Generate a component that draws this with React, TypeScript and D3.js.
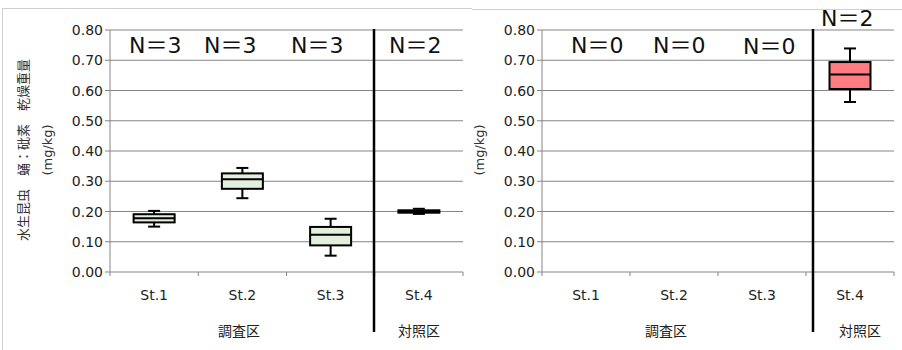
import React from "react";
import * as d3 from "d3";

const categories = ["St.1", "St.2", "St.3", "St.4"];
const groupLabels = ["調査区", "対照区"];
const yTicks = [0, 0.1, 0.2, 0.3, 0.4, 0.5, 0.6, 0.7, 0.8];

// left panel: box statistics per station
const leftMin = [0.150, 0.244, 0.054, 0.192];
const leftQ1 = [0.164, 0.275, 0.088, 0.196];
const leftMedian = [0.178, 0.307, 0.123, 0.200];
const leftQ3 = [0.191, 0.326, 0.149, 0.204];
const leftMax = [0.202, 0.344, 0.176, 0.209];
const leftN = ["N＝3", "N＝3", "N＝3", "N＝2"];

// right panel: only St.4 has data
const rightMin: (number | null)[] = [null, null, null, 0.562];
const rightQ1: (number | null)[] = [null, null, null, 0.605];
const rightMedian: (number | null)[] = [null, null, null, 0.653];
const rightQ3: (number | null)[] = [null, null, null, 0.694];
const rightMax: (number | null)[] = [null, null, null, 0.739];
const rightN = ["N＝0", "N＝0", "N＝0", "N＝2"];

const FONT = "'DejaVu Sans', 'Noto Sans CJK JP', sans-serif";
const CJK = "'Noto Sans CJK JP', sans-serif";

type PanelProps = {
  x0: number;
  x1: number;
  sepX: number;
  minV: (number | null)[];
  q1: (number | null)[];
  med: (number | null)[];
  q3: (number | null)[];
  maxV: (number | null)[];
  fill: string;
  nLabels: string[];
  nPos: { x: number; y: number }[];
  titleLines: { text: string; x: number; font: string; size: number }[];
  groupX: number[];
};

function Panel(p: PanelProps) {
  const yTop = 30;
  const yBot = 272;
  const y = d3.scaleLinear().domain([0, 0.8]).range([yBot, yTop]);
  const x = d3.scaleBand().domain(categories).range([p.x0, p.x1]).paddingInner(0).paddingOuter(0);
  const bw = x.bandwidth();
  const boxW = 41;
  const capW = 12;
  const boundaries = [p.x0, ...categories.map((c) => (x(c) as number) + bw)];
  return (
    <g>
      {yTicks.filter((t) => t > 0).map((t) => (
        <line key={"g" + t} x1={p.x0} x2={p.x1} y1={y(t)} y2={y(t)} stroke="#858585" strokeWidth={1} />
      ))}
      <line x1={p.x0} x2={p.x0} y1={yTop} y2={yBot} stroke="#858585" strokeWidth={1} />
      {yTicks.map((t) => (
        <g key={"t" + t}>
          <line x1={p.x0 - 5} x2={p.x0} y1={y(t)} y2={y(t)} stroke="#858585" strokeWidth={1} />
          <text x={p.x0 - 7} y={y(t)} dy="0.36em" textAnchor="end" fontFamily={FONT} fontSize={14} fill="#222">
            {t.toFixed(2)}
          </text>
        </g>
      ))}
      <line x1={p.x0} x2={p.x1} y1={yBot} y2={yBot} stroke="#858585" strokeWidth={1} />
      {boundaries.map((b, i) => (
        <line key={"b" + i} x1={b} x2={b} y1={yBot} y2={yBot + 4} stroke="#858585" strokeWidth={1} />
      ))}
      {categories.map((c) => (
        <text key={"c" + c} x={(x(c) as number) + bw / 2} y={300} textAnchor="middle" fontFamily={FONT} fontSize={14} fill="#222">
          {c}
        </text>
      ))}
      {groupLabels.map((g, i) => (
        <text key={"gl" + g} x={p.groupX[i]} y={336} textAnchor="middle" fontFamily={CJK} fontSize={14} fill="#222">
          {g}
        </text>
      ))}
      {categories.map((c, i) => {
        const mn = p.minV[i], a = p.q1[i], m = p.med[i], b = p.q3[i], mx = p.maxV[i];
        if (mn == null || a == null || m == null || b == null || mx == null) return null;
        const cx = (x(c) as number) + bw / 2;
        return (
          <g key={"box" + c}>
            <line x1={cx} x2={cx} y1={y(mx)} y2={y(b)} stroke="#000" strokeWidth={2} />
            <line x1={cx} x2={cx} y1={y(a)} y2={y(mn)} stroke="#000" strokeWidth={2} />
            <line x1={cx - capW / 2} x2={cx + capW / 2} y1={y(mx)} y2={y(mx)} stroke="#000" strokeWidth={2} />
            <line x1={cx - capW / 2} x2={cx + capW / 2} y1={y(mn)} y2={y(mn)} stroke="#000" strokeWidth={2} />
            <rect x={cx - boxW / 2} y={y(b)} width={boxW} height={y(a) - y(b)} fill={p.fill} stroke="#000" strokeWidth={2} />
            <line x1={cx - boxW / 2} x2={cx + boxW / 2} y1={y(m)} y2={y(m)} stroke="#000" strokeWidth={2} />
          </g>
        );
      })}
      <line x1={p.sepX} x2={p.sepX} y1={29} y2={332} stroke="#000" strokeWidth={2.5} />
      {p.nLabels.map((n, i) => (
        <text key={"n" + i} x={p.nPos[i].x} y={p.nPos[i].y} fontFamily={FONT} fontSize={22} fill="#111">
          {n}
        </text>
      ))}
      {p.titleLines.map((l, i) => (
        <text
          key={"yt" + i}
          transform={`translate(${l.x},150) rotate(-90)`}
          textAnchor="middle"
          dy="0.35em"
          fontFamily={l.font}
          fontSize={l.size}
          fill="#333"
        >
          {l.text}
        </text>
      ))}
    </g>
  );
}

export default function App() {
  return (
    <svg width={902} height={350} style={{ position: "absolute", left: 0, top: 0, background: "#fff" }}>
      <rect x={0} y={0} width={902} height={350} fill="#fff" />
      <line x1={2.5} x2={2.5} y1={8} y2={350} stroke="#d0d0d0" strokeWidth={1} />
      <line x1={2.5} x2={472} y1={8.5} y2={8.5} stroke="#d0d0d0" strokeWidth={1} />
      <line x1={472} x2={902} y1={9.5} y2={9.5} stroke="#d0d0d0" strokeWidth={1} />
      <Panel
        x0={110}
        x1={463}
        sepX={374}
        minV={leftMin}
        q1={leftQ1}
        med={leftMedian}
        q3={leftQ3}
        maxV={leftMax}
        fill="#e2efda"
        nLabels={leftN}
        nPos={[{ x: 129, y: 53 }, { x: 204, y: 53 }, { x: 291, y: 53 }, { x: 389, y: 53 }]}
        titleLines={[
          { text: "水生昆虫　蛹：砒素　乾燥重量", x: 23, font: CJK, size: 13 },
          { text: "(mg/kg)", x: 47, font: FONT, size: 13 },
        ]}
        groupX={[239, 419]}
      />
      <Panel
        x0={542}
        x1={894}
        sepX={813}
        minV={rightMin}
        q1={rightQ1}
        med={rightMedian}
        q3={rightQ3}
        maxV={rightMax}
        fill="#ff7c80"
        nLabels={rightN}
        nPos={[{ x: 571, y: 53 }, { x: 653, y: 53 }, { x: 743, y: 54 }, { x: 821, y: 26 }]}
        titleLines={[{ text: "(mg/kg)", x: 479, font: FONT, size: 13 }]}
        groupX={[666, 860]}
      />
    </svg>
  );
}
